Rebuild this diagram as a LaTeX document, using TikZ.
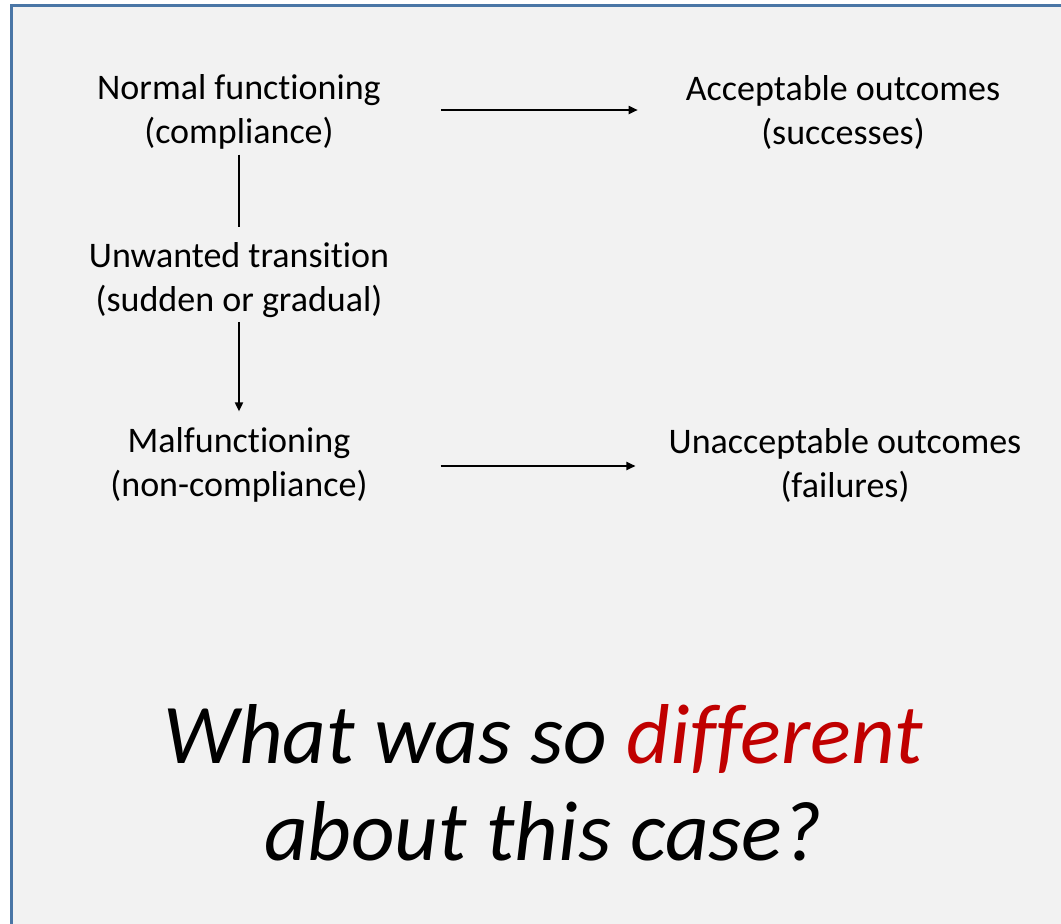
\documentclass[tikz,border=0pt]{standalone}
\usepackage{fontspec}
\setmainfont{Carlito}[Ligatures={NoCommon}]
\usetikzlibrary{arrows.meta}
\definecolor{panel}{HTML}{F2F2F2}
\definecolor{frame}{HTML}{4A76A6}
\definecolor{accent}{HTML}{C00000}
\begin{document}
\begin{tikzpicture}[x=1pt,y=-1pt,
  state/.style={align=center,inner sep=0pt,font=\fontsize{36}{44}\selectfont},
  flow/.style={line width=1.8pt,-{Triangle[length=9pt,width=8pt]}},
  link/.style={line width=1.8pt}]
\useasboundingbox (0,0) rectangle (1061,924);
\fill[white] (0,0) rectangle (1061,924);
\fill[panel] (11.5,5) rectangle (1070,935);
\draw[frame,line width=3pt] (11.5,940) -- (11.5,5) -- (1070,5);

\node[state] (nf) at (239,112) {Normal functioning\\(compliance)};
\node[state] (ao) at (843,112) {Acceptable outcomes\\(successes)};
\node[state] (ut) at (239,280) {Unwanted transition\\(sudden or gradual)};
\node[state] (mf) at (239,465) {Malfunctioning\\(non-compliance)};
\node[state] (uo) at (845,465) {Unacceptable outcomes\\(failures)};

\node[align=center,inner sep=0pt,font=\fontsize{85}{97}\selectfont\itshape] (q) at (543,783)
  {What was so \textcolor{accent}{different}\\about this case?};

\draw[flow] ([xshift=60pt,yshift=2pt]nf.east) -- ([xshift=-48pt,yshift=2pt]ao.west);
\draw[flow] ([xshift=73pt,yshift=-1pt]mf.east) -- ([xshift=-33pt,yshift=-1pt]uo.west);
\draw[link] ([yshift=-5pt]nf.south) -- ([yshift=15pt]ut.north);
\draw[flow] ([yshift=-4pt]ut.south) -- ([yshift=16pt]mf.north);
\end{tikzpicture}
\end{document}
